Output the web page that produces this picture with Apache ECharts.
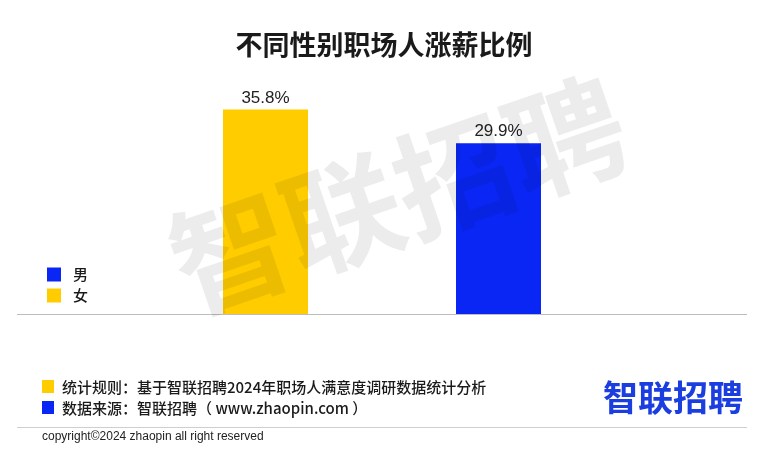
<!DOCTYPE html>
<html>
<head>
<meta charset="utf-8">
<script src="https://cdn.jsdelivr.net/npm/echarts@6/dist/echarts.min.js"></script>
<style>html,body{margin:0;padding:0;background:#fff;}#c{width:768px;height:450px;}</style>
</head>
<body>
<div id="c"></div>
<script>
const categories = ['女', '男'];
const seriesNames = ['女', '男'];
const femaleValues = [35.8, null];
const maleValues = [null, 29.9];
const titleText = '不同性别职场人涨薪比例';
const noteRule = '统计规则：基于智联招聘2024年职场人满意度调研数据统计分析';
const noteSource = '数据来源：智联招聘（ www.zhaopin.com ）';
const copyrightText = 'copyright©2024 zhaopin all right reserved';
const logoText = '智联招聘';

const YELLOW = '#ffcc00';
const BLUE = '#0a26f5';
const FONT = '"Noto Sans CJK SC", "Noto Sans", sans-serif';

const chart = echarts.init(document.getElementById('c'));
chart.setOption({
  backgroundColor: '#fff',
  animation: false,
  title: {
    text: titleText, left: 'center', top: 26,
    textStyle: { fontFamily: FONT, fontSize: 27, fontWeight: 'bold', color: '#1a1a1a' }
  },
  legend: {
    orient: 'vertical', left: 42, top: 262,
    data: ['男', '女'],
    icon: 'rect', itemWidth: 14, itemHeight: 14, itemGap: 6,
    textStyle: { fontFamily: FONT, fontSize: 15, color: '#1a1a1a', fontWeight: 500, padding: [0, 0, 0, 7] }
  },
  grid: { left: 149, width: 466, top: 57, bottom: 136 },
  xAxis: {
    type: 'category', data: categories,
    axisLine: { show: false }, axisTick: { show: false }, axisLabel: { show: false }
  },
  yAxis: {
    type: 'value', min: 0, max: 45, show: false, splitLine: { show: false }
  },
  series: [
    {
      name: seriesNames[0], type: 'bar', data: femaleValues, barWidth: 85, barGap: '-100%',
      itemStyle: { color: YELLOW },
      label: { show: true, position: 'top', distance: 3, formatter: '{c}%',
        fontFamily: '"Liberation Sans", Arial, sans-serif', fontSize: 17, color: '#222' }
    },
    {
      name: seriesNames[1], type: 'bar', data: maleValues, barWidth: 85, barGap: '-100%',
      itemStyle: { color: BLUE },
      label: { show: true, position: 'top', distance: 3, formatter: '{c}%',
        fontFamily: '"Liberation Sans", Arial, sans-serif', fontSize: 17, color: '#222' }
    }
  ],
  graphic: [
    { type: 'line', shape: { x1: 17, y1: 314.5, x2: 747, y2: 314.5 }, style: { stroke: '#bdbdbd', lineWidth: 1 }, z: 5 },
    { type: 'text', x: 398, y: 195, rotation: 19 * Math.PI / 180, originX: 0, originY: 0, z: 100, silent: true,
      style: { text: '智联招聘', fontFamily: FONT, fontSize: 118, fontWeight: 'bold',
        fill: 'rgba(0,0,0,0.075)', align: 'center', verticalAlign: 'middle' } },
    { type: 'rect', shape: { x: 42, y: 380, width: 12, height: 13 }, style: { fill: YELLOW } },
    { type: 'text', x: 62, y: 387, style: { text: noteRule, fontFamily: FONT, fontSize: 15, fontWeight: 500, fill: '#1a1a1a', verticalAlign: 'middle' } },
    { type: 'rect', shape: { x: 42, y: 401, width: 12, height: 13 }, style: { fill: BLUE } },
    { type: 'text', x: 62, y: 408, style: { text: noteSource, fontFamily: FONT, fontSize: 15, fontWeight: 500, fill: '#1a1a1a', verticalAlign: 'middle' } },
    { type: 'text', x: 673, y: 398, style: { text: logoText, fontFamily: FONT, fontSize: 35, fontWeight: 'bold', fill: '#1a3ee0', align: 'center', verticalAlign: 'middle' } },
    { type: 'line', shape: { x1: 17, y1: 427.5, x2: 747, y2: 427.5 }, style: { stroke: '#cfcfcf', lineWidth: 1 } },
    { type: 'text', x: 42, y: 437, style: { text: copyrightText, fontFamily: '"Liberation Sans", Arial, sans-serif', fontSize: 12, fill: '#222', verticalAlign: 'middle' } }
  ]
});
</script>
</body>
</html>
